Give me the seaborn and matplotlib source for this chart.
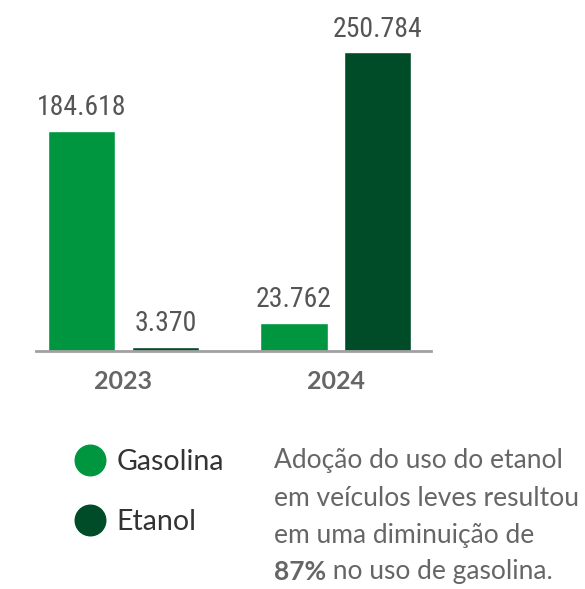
import matplotlib
matplotlib.use('Agg')
import matplotlib.pyplot as plt
from matplotlib import font_manager
from matplotlib.lines import Line2D
import pandas as pd
import seaborn as sns

anos = ['2023', '2024']
combustiveis = ['Gasolina', 'Etanol']
gasolina = [184618, 23762]
etanol = [3370, 250784]
cores = {'Gasolina': '#00963f', 'Etanol': '#004b28'}
texto = ['Adoção do uso do etanol',
         'em veículos leves resultou',
         'em uma diminuição de']
destaque = '87%'
texto_final = ' no uso de gasolina.'

df = pd.DataFrame({
    'ano': anos * 2,
    'combustivel': ['Gasolina'] * 2 + ['Etanol'] * 2,
    'valor': gasolina + etanol,
})

sns.set_style('white')
plt.rcParams['font.family'] = ['Lato', 'DejaVu Sans']

# fonte estreita para os valores, se houver
nomes = {f.name for f in font_manager.fontManager.ttflist}
estreita = None
for cand in ['Liberation Sans Narrow', 'DejaVu Sans Condensed', 'Roboto Condensed']:
    if cand in nomes:
        estreita = cand
        break
if estreita:
    fonte_valor, tam_valor = estreita, 20
else:
    fonte_valor, tam_valor = 'Roboto', 17

fig = plt.figure(figsize=(5.85, 5.89), dpi=100)
ax = fig.add_axes([0.0615, 0.404, 0.675, 0.562])

sns.barplot(data=df, x='ano', y='valor', hue='combustivel', hue_order=combustiveis,
            palette=cores, width=0.79, gap=0.2, saturation=1, ax=ax, legend=False)

def fmt(v):
    return f'{int(v):,}'.replace(',', '.')

for cont in ax.containers:
    ax.bar_label(cont, labels=[fmt(b.get_height()) for b in cont], padding=7,
                 fontsize=tam_valor, color='#555555', family=[fonte_valor, 'DejaVu Sans'])

ax.set_ylim(0, 278000)
ax.set_xlim(-0.412, 1.447)
ax.set_xlabel('')
ax.set_ylabel('')
ax.set_yticks([])
for s in ['left', 'top', 'right']:
    ax.spines[s].set_visible(False)
ax.spines['bottom'].set_color('#a0a0a0')
ax.spines['bottom'].set_linewidth(2)
ax.tick_params(axis='x', which='major', length=0, pad=14, labelsize=18, labelcolor='#666666')
for lab in ax.get_xticklabels():
    lab.set_fontweight('bold')
ax.set_xticks([-0.412, 1.447], minor=True)
ax.tick_params(axis='x', which='minor', direction='in', length=6, width=2, color='#a0a0a0')

handles = [Line2D([], [], ls='', marker='o', markersize=22, color=cores[c]) for c in combustiveis]
fig.legend(handles, combustiveis, loc='upper left', bbox_to_anchor=(0.081, 0.262),
           frameon=False, fontsize=20.5, labelspacing=1.2, handletextpad=-0.08,
           labelcolor='#333333', borderpad=0)

x0 = 274 / 585
for i, linha in enumerate(texto):
    fig.text(x0, 1 - (468 + 37.5 * i) / 589, linha, fontsize=19, color='#666666', va='baseline')
t = fig.text(x0, 1 - (468 + 37.5 * 3) / 589, destaque, fontsize=19, color='#666666',
             va='baseline', fontweight='bold')
ax.annotate(texto_final, xy=(1, 0), xycoords=t, fontsize=19, color='#666666', va='bottom',
            annotation_clip=False)

fig.savefig('out.png', dpi=100)
